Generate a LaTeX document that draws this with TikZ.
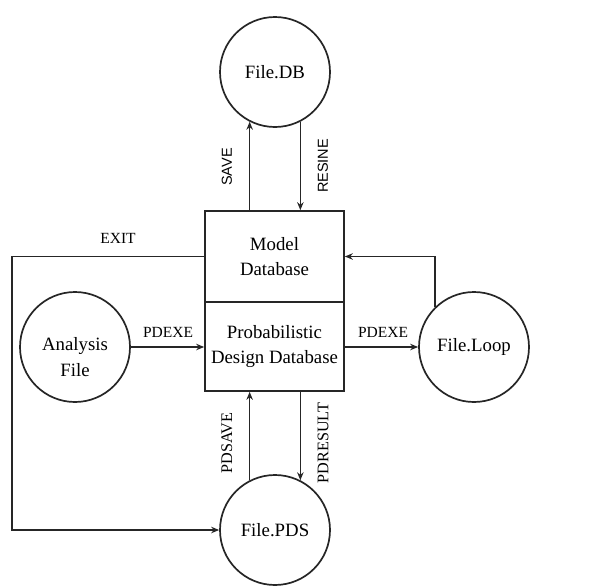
\documentclass[tikz,border=0pt]{standalone}
\usepackage{fontspec}
\setmainfont{Liberation Serif}
\newfontfamily\lblsans{Liberation Sans}
\usetikzlibrary{arrows.meta}
\begin{document}
\begin{tikzpicture}[x=1pt,y=-1pt,
  line width=1.7pt, draw=black!85,
  circ/.style={circle,draw,minimum size=110pt,inner sep=0pt,align=center,font=\fontsize{18.8}{25}\selectfont},
  boxpart/.style={rectangle,draw,minimum width=139pt,inner sep=0pt,align=center,font=\fontsize{18.8}{25.5}\selectfont},
  arr/.style={-{Stealth[length=8pt,width=6.5pt]}},
  lbl/.style={font=\fontsize{15.5}{18}\selectfont},
  vlbl/.style={font=\fontsize{16.2}{18}\selectfont,rotate=90},
  slbl/.style={font=\lblsans\fontsize{14.5}{18}\selectfont,rotate=90}]
\useasboundingbox (0,0) rectangle (594,587);
\node[circ] (db) at (275,72) {File.DB};
\node[boxpart,minimum height=91pt] (model) at (274.5,256.5) {Model\\Database};
\node[boxpart,minimum height=89pt] (pdd) at (274.5,346.5) {Probabilistic\\Design Database};
\node[circ] (af) at (75,347) {\raisebox{-29pt}[0pt][0pt]{\fontsize{18.8}{26}\selectfont\begin{tabular}[b]{@{}c@{}}Analysis\\File\end{tabular}}};
\node[circ] (loop) at (474,347) {File.Loop};
\node[circ] (pds) at (275,530) {File.PDS};
% top arrows
\draw[arr] (model.north -| db.243) -- (db.243);
\draw[arr] (db.297) -- (model.north -| db.297);
% bottom arrows
\draw[arr] (pds.117) -- (pdd.south -| pds.117);
\draw[arr] (pdd.south -| pds.63) -- (pds.63);
% side arrows
\draw[arr] (af.east) -- (af.east -| pdd.west);
\draw[arr] (pdd.east |- loop.west) -- (loop.west);
\coordinate (exitcorner) at (12,256.5);
\draw[arr] (model.west) -- (exitcorner) |- (pds.west);
\draw[arr] (loop.134) |- (model.east);
% labels
\node[lbl] (lexit) at (118,238) {EXIT};
\node[lbl] (lpd1) at (168,332) {PDEXE};
\node[lbl] (lpd2) at (383,332) {PDEXE};
\node[slbl] (lsave) at (227,167) {SAVE};
\node[slbl] (lres) at (323,166) {RESINE};
\node[vlbl] (lpds) at (227,443) {PDSAVE};
\node[vlbl] (lpdr) at (323,443) {PDRESULT};
\end{tikzpicture}
\end{document}
